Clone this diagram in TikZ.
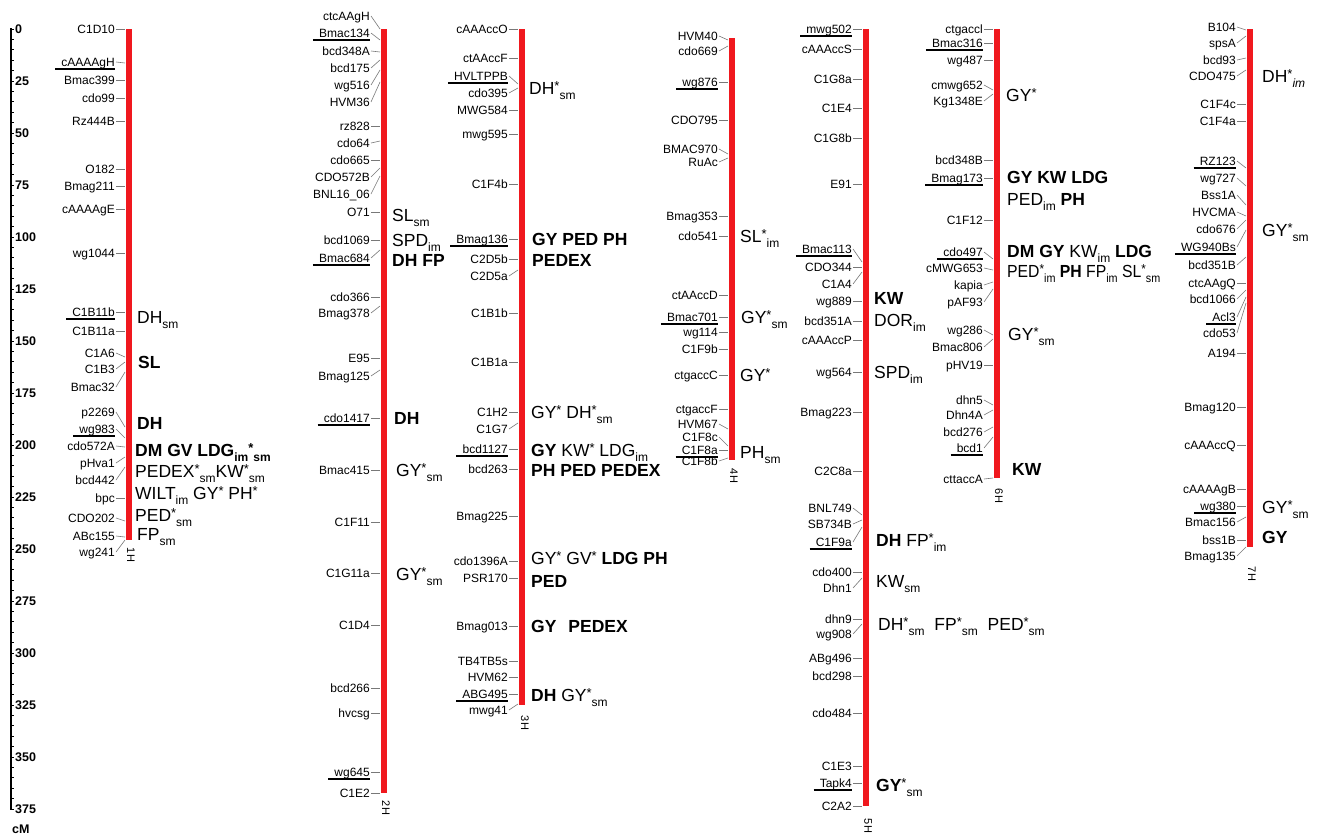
\documentclass[tikz,border=0pt]{standalone}
\usepackage{fontspec}
\usepackage{graphicx}
\setmainfont{Liberation Sans}
\usetikzlibrary{calc}
\definecolor{chrred}{RGB}{240,24,30}
\definecolor{conngray}{RGB}{120,120,120}
\newcommand\sbs[1]{\raisebox{-0.3em}{\fontsize{12}{12}\selectfont #1}}
\newcommand\st{\raisebox{0.2em}{\fontsize{13}{13}\selectfont *}}
\newcommand\mk[5]{%
  \node[mlab] (#1) at ({#2-13},#3) {#5};
  \coordinate (#1b) at ({#2-4},#4);
  \draw[conn] (#1.east) -- (#1b);}
\newcommand\mku[5]{\mk{#1}{#2}{#3}{#4}{#5}%
  \draw[uline] ($(#1.base west)+(-5,3)$) -- ($(#1.base east)+(-1,3)$);}
\newcommand\tr[4]{\node[trait] (#1) at (#2,#3) {#4};}
\newcommand\chrom[3]{\fill[chrred] ({#1-3},#2) rectangle ({#1+3},#3);}
\tikzset{
  mlab/.style={anchor=east, font=\fontsize{12}{12}\selectfont, inner xsep=1pt, inner ysep=0pt, text height=9pt, text depth=1pt},
  trait/.style={anchor=west, font=\fontsize{17.5}{18}\selectfont, inner sep=0pt, text height=12.6pt, text depth=0pt},
  conn/.style={draw=conngray, line width=0.6pt},
  uline/.style={draw=black, line width=1.2pt},
  chrlab/.style={font=\fontsize{11}{11}\selectfont, rotate=-90, inner sep=0pt},
  scl/.style={anchor=west, font=\bfseries\fontsize{12.5}{12.5}\selectfont, inner sep=0pt, text height=9pt, text depth=0pt},
  axisline/.style={draw=black, line width=1.8pt},
  tickline/.style={draw=black, line width=1pt}
}
\begin{document}
\begin{tikzpicture}[x=1pt,y=-1pt]
\fill[white] (0,0) rectangle (1321,838);
\useasboundingbox (0,0) rectangle (1321,838);
% scale
\draw[axisline] (11,28) -- (11,810);
\foreach \v in {0,5,...,375} \draw[tickline] (11,{29+2.08*\v}) -- (14,{29+2.08*\v});
\foreach \v in {0,25,...,375} \node[scl] (s\v) at (15,{29+2.08*\v}) {\v};
\node[scl] (cm) at (12,829) {cM};
% bars
\chrom{129}{29}{540}
\chrom{384}{29}{793}
\chrom{522}{29}{705}
\chrom{732}{38}{460}
\chrom{866}{29}{806}
\chrom{997}{29}{478}
\chrom{1250}{29}{547}
% chromosome labels
\node[chrlab] (l1) at (131,555) {1H};
\node[chrlab] (l2) at (386,808) {2H};
\node[chrlab] (l3) at (525,723) {3H};
\node[chrlab] (l4) at (734,476) {4H};
\node[chrlab] (l5) at (868,826) {5H};
\node[chrlab] (l6) at (999,496) {6H};
\node[chrlab] (l7) at (1252,574) {7H};
% 1H
\mk{a1}{129}{29}{29}{C1D10}
\mku{a2}{129}{62}{63}{cAAAAgH}
\mk{a3}{129}{80}{80}{Bmac399}
\mk{a4}{129}{98}{98}{cdo99}
\mk{a5}{129}{121}{121}{Rz444B}
\mk{a6}{129}{169}{169}{O182}
\mk{a7}{129}{186}{186}{Bmag211}
\mk{a8}{129}{209}{209}{cAAAAgE}
\mk{a9}{129}{253}{253}{wg1044}
\mku{a10}{129}{312}{312}{C1B11b}
\mk{a11}{129}{331}{331}{C1B11a}
\mk{a12}{129}{353}{357}{C1A6}
\mk{a13}{129}{369}{362}{C1B3}
\mk{a14}{129}{387}{372}{Bmac32}
\mk{a15}{129}{412}{427}{p2269}
\mku{a16}{129}{429}{438}{wg983}
\mk{a17}{129}{446}{447}{cdo572A}
\mk{a18}{129}{463}{457}{pHva1}
\mk{a19}{129}{480}{467}{bcd442}
\mk{a20}{129}{498}{498}{bpc}
\mk{a21}{129}{518}{521}{CDO202}
\mk{a22}{129}{536}{537}{ABc155}
\mk{a23}{129}{552}{540}{wg241}
\tr{t1}{137}{317}{DH\sbs{sm}}
\tr{t2}{138}{362}{\textbf{SL}}
\tr{t3}{137}{423}{\textbf{DH}}
\tr{t4}{135}{450}{\textbf{DM GV LDG\sbs{im}\st\sbs{sm}}}
\tr{t5}{135}{471}{PEDEX\st\sbs{sm}KW\st\sbs{sm}}
\tr{t6}{135}{493}{WILT\sbs{im} GY\st{} PH\st}
\tr{t7}{135}{515}{PED\st\sbs{sm}}
\tr{t8}{137}{534}{FP\sbs{sm}}
% 2H
\mk{b1}{384}{16}{29}{ctcAAgH}
\mku{b2}{384}{33}{40}{Bmac134}
\mk{b3}{384}{51}{52}{bcd348A}
\mk{b4}{384}{68}{60}{bcd175}
\mk{b5}{384}{85}{70}{wg516}
\mk{b6}{384}{102}{82}{HVM36}
\mk{b7}{384}{126}{126}{rz828}
\mk{b8}{384}{143}{141}{cdo64}
\mk{b9}{384}{160}{160}{cdo665}
\mk{b10}{384}{177}{168}{CDO572B}
\mk{b11}{384}{194}{176}{BNL16\_06}
\mk{b12}{384}{212}{212}{O71}
\mk{b13}{384}{240}{240}{bcd1069}
\mku{b14}{384}{258}{250}{Bmac684}
\mk{b15}{384}{297}{297}{cdo366}
\mk{b16}{384}{313}{306}{Bmag378}
\mk{b17}{384}{358}{358}{E95}
\mk{b18}{384}{376}{370}{Bmag125}
\mku{b19}{384}{418}{418}{cdo1417}
\mk{b20}{384}{470}{470}{Bmac415}
\mk{b21}{384}{522}{522}{C1F11}
\mk{b22}{384}{573}{573}{C1G11a}
\mk{b23}{384}{625}{625}{C1D4}
\mk{b24}{384}{688}{688}{bcd266}
\mk{b25}{384}{713}{713}{hvcsg}
\mku{b26}{384}{772}{772}{wg645}
\mk{b27}{384}{793}{793}{C1E2}
\tr{t9}{392}{215}{SL\sbs{sm}}
\tr{t10}{392}{240}{SPD\sbs{im}}
\tr{t11}{392}{260}{\textbf{DH FP}}
\tr{t12}{394}{418}{\textbf{DH}}
\tr{t13}{396}{470}{GY\st\sbs{sm}}
\tr{t14}{396}{574}{GY\st\sbs{sm}}
% 3H
\mk{c1}{522}{29}{29}{cAAAccO}
\mk{c2}{522}{58}{58}{ctAAccF}
\mku{c3}{522}{76}{84}{HVLTPPB}
\mk{c4}{522}{93}{88}{cdo395}
\mk{c5}{522}{110}{110}{MWG584}
\mk{c6}{522}{134}{134}{mwg595}
\mk{c7}{522}{184}{184}{C1F4b}
\mku{c8}{522}{239}{239}{Bmag136}
\mk{c9}{522}{259}{259}{C2D5b}
\mk{c10}{522}{276}{270}{C2D5a}
\mk{c11}{522}{313}{313}{C1B1b}
\mk{c12}{522}{362}{362}{C1B1a}
\mk{c13}{522}{412}{412}{C1H2}
\mk{c14}{522}{429}{423}{C1G7}
\mku{c15}{522}{449}{449}{bcd1127}
\mk{c16}{522}{469}{469}{bcd263}
\mk{c17}{522}{516}{516}{Bmag225}
\mk{c18}{522}{561}{561}{cdo1396A}
\mk{c19}{522}{578}{578}{PSR170}
\mk{c20}{522}{626}{626}{Bmag013}
\mk{c21}{522}{661}{661}{TB4TB5s}
\mk{c22}{522}{677}{677}{HVM62}
\mku{c23}{522}{694}{694}{ABG495}
\mk{c24}{522}{710}{704}{mwg41}
\tr{t15}{529}{88}{DH\st\sbs{sm}}
\tr{t16}{532}{239}{\textbf{GY PED PH}}
\tr{t17}{532}{260}{\textbf{PEDEX}}
\tr{t18}{531}{412}{GY\st{} DH\st\sbs{sm}}
\tr{t19}{531}{450}{\textbf{GY} KW\st{} LDG\sbs{im}}
\tr{t20}{531}{470}{\textbf{PH PED PEDEX}}
\tr{t21}{531}{558}{GY\st{} GV\st{} \textbf{LDG PH}}
\tr{t22}{531}{581}{\textbf{PED}}
\tr{t23}{531}{626}{\textbf{GY\hspace{12pt}PEDEX}}
\tr{t24}{531}{695}{\textbf{DH} GY\st\sbs{sm}}
% 4H
\mk{d1}{732}{36}{40}{HVM40}
\mk{d2}{732}{51}{46}{cdo669}
\mku{d3}{732}{82}{82}{wg876}
\mk{d4}{732}{120}{120}{CDO795}
\mk{d5}{732}{149}{154}{BMAC970}
\mk{d6}{732}{162}{158}{RuAc}
\mk{d7}{732}{216}{216}{Bmag353}
\mk{d8}{732}{236}{236}{cdo541}
\mk{d9}{732}{295}{295}{ctAAccD}
\mku{d10}{732}{317}{317}{Bmac701}
\mk{d11}{732}{332}{332}{wg114}
\mk{d12}{732}{349}{349}{C1F9b}
\mk{d13}{732}{375}{375}{ctgaccC}
\mk{d14}{732}{409}{409}{ctgaccF}
\mk{d15}{732}{424}{429}{HVM67}
\mk{d16}{732}{437}{446}{C1F8c}
\mku{d17}{732}{450}{450}{C1F8a}
\mk{d18}{732}{461}{458}{C1F8b}
\tr{t25}{740}{236}{SL\st\sbs{im}}
\tr{t26}{741}{317}{GY\st\sbs{sm}}
\tr{t27}{740}{375}{GY\st}
\tr{t28}{740}{452}{PH\sbs{sm}}
% 5H
\mku{e1}{866}{29}{29}{mwg502}
\mk{e2}{866}{49}{49}{cAAAccS}
\mk{e3}{866}{79}{79}{C1G8a}
\mk{e4}{866}{108}{108}{C1E4}
\mk{e5}{866}{138}{138}{C1G8b}
\mk{e6}{866}{184}{184}{E91}
\mku{e7}{866}{249}{262}{Bmac113}
\mk{e8}{866}{267}{267}{CDO344}
\mk{e9}{866}{284}{272}{C1A4}
\mk{e10}{866}{301}{301}{wg889}
\mk{e11}{866}{321}{321}{bcd351A}
\mk{e12}{866}{340}{340}{cAAAccP}
\mk{e13}{866}{372}{372}{wg564}
\mk{e14}{866}{412}{412}{Bmag223}
\mk{e15}{866}{471}{471}{C2C8a}
\mk{e16}{866}{508}{515}{BNL749}
\mk{e17}{866}{524}{520}{SB734B}
\mku{e18}{866}{542}{527}{C1F9a}
\mk{e19}{866}{572}{572}{cdo400}
\mk{e20}{866}{588}{578}{Dhn1}
\mk{e21}{866}{619}{619}{dhn9}
\mk{e22}{866}{634}{624}{wg908}
\mk{e23}{866}{658}{658}{ABg496}
\mk{e24}{866}{676}{676}{bcd298}
\mk{e25}{866}{713}{713}{cdo484}
\mk{e26}{866}{766}{766}{C1E3}
\mku{e27}{866}{783}{783}{Tapk4}
\mk{e28}{866}{806}{806}{C2A2}
\tr{t29}{874}{298}{\textbf{KW}}
\tr{t30}{874}{320}{DOR\sbs{im}}
\tr{t31}{874}{372}{SPD\sbs{im}}
\tr{t32}{876}{540}{\textbf{DH} FP\st\sbs{im}}
\tr{t33}{876}{581}{KW\sbs{sm}}
\tr{t34}{878}{624}{DH\st\sbs{sm}\hspace{5pt} FP\st\sbs{sm}\hspace{5pt} PED\st\sbs{sm}}
\tr{t35}{876}{785}{\textbf{GY}\st\sbs{sm}}
% 6H
\mk{f1}{997}{29}{29}{ctgaccl}
\mku{f2}{997}{43}{43}{Bmac316}
\mk{f3}{997}{60}{60}{wg487}
\mk{f4}{997}{85}{90}{cmwg652}
\mk{f5}{997}{101}{94}{Kg1348E}
\mk{f6}{997}{160}{160}{bcd348B}
\mku{f7}{997}{178}{178}{Bmag173}
\mk{f8}{997}{220}{220}{C1F12}
\mku{f9}{997}{252}{259}{cdo497}
\mk{f10}{997}{268}{270}{cMWG653}
\mk{f11}{997}{285}{282}{kapia}
\mk{f12}{997}{302}{289}{pAF93}
\mk{f13}{997}{330}{335}{wg286}
\mk{f14}{997}{347}{339}{Bmac806}
\mk{f15}{997}{365}{365}{pHV19}
\mk{f16}{997}{400}{405}{dhn5}
\mk{f17}{997}{415}{410}{Dhn4A}
\mk{f18}{997}{432}{427}{bcd276}
\mku{f19}{997}{448}{437}{bcd1}
\mk{f20}{997}{479}{478}{cttaccA}
\tr{t36}{1006}{95}{GY\st}
\tr{t37}{1007}{177}{\textbf{GY KW LDG}}
\tr{t38}{1007}{199}{PED\sbs{im} \textbf{PH}}
\tr{t39}{1007}{251}{\textbf{DM GY} KW\sbs{im} \textbf{LDG}}
\tr{t40}{1007}{271}{\scalebox{0.9}[1]{PED\st\sbs{im} \textbf{PH} FP\sbs{im} SL\st\sbs{sm}}}
\tr{t41}{1008}{334}{GY\st\sbs{sm}}
\tr{t42}{1012}{469}{\textbf{KW}}
% 7H
\mk{g1}{1250}{27}{30}{B104}
\mk{g2}{1250}{43}{36}{spsA}
\mk{g3}{1250}{60}{58}{bcd93}
\mk{g4}{1250}{76}{70}{CDO475}
\mk{g5}{1250}{104}{104}{C1F4c}
\mk{g6}{1250}{121}{121}{C1F4a}
\mku{g7}{1250}{161}{168}{RZ123}
\mk{g8}{1250}{178}{186}{wg727}
\mk{g9}{1250}{195}{205}{Bss1A}
\mk{g10}{1250}{212}{216}{HVCMA}
\mk{g11}{1250}{229}{220}{cdo676}
\mku{g12}{1250}{247}{230}{WG940Bs}
\mk{g13}{1250}{265}{257}{bcd351B}
\mk{g14}{1250}{283}{283}{ctcAAgQ}
\mk{g15}{1250}{299}{290}{bcd1066}
\mku{g16}{1250}{317}{297}{Acl3}
\mk{g17}{1250}{333}{303}{cdo53}
\mk{g18}{1250}{353}{353}{A194}
\mk{g19}{1250}{407}{407}{Bmag120}
\mk{g20}{1250}{445}{445}{cAAAccQ}
\mk{g21}{1250}{489}{489}{cAAAAgB}
\mku{g22}{1250}{506}{506}{wg380}
\mk{g23}{1250}{522}{517}{Bmac156}
\mk{g24}{1250}{540}{540}{bss1B}
\mk{g25}{1250}{556}{547}{Bmag135}
\tr{t43}{1262}{76}{DH\st\sbs{\textit{im}}}
\tr{t44}{1262}{230}{GY\st\sbs{sm}}
\tr{t45}{1262}{507}{GY\st\sbs{sm}}
\tr{t46}{1262}{537}{\textbf{GY}}
\end{tikzpicture}
\end{document}
